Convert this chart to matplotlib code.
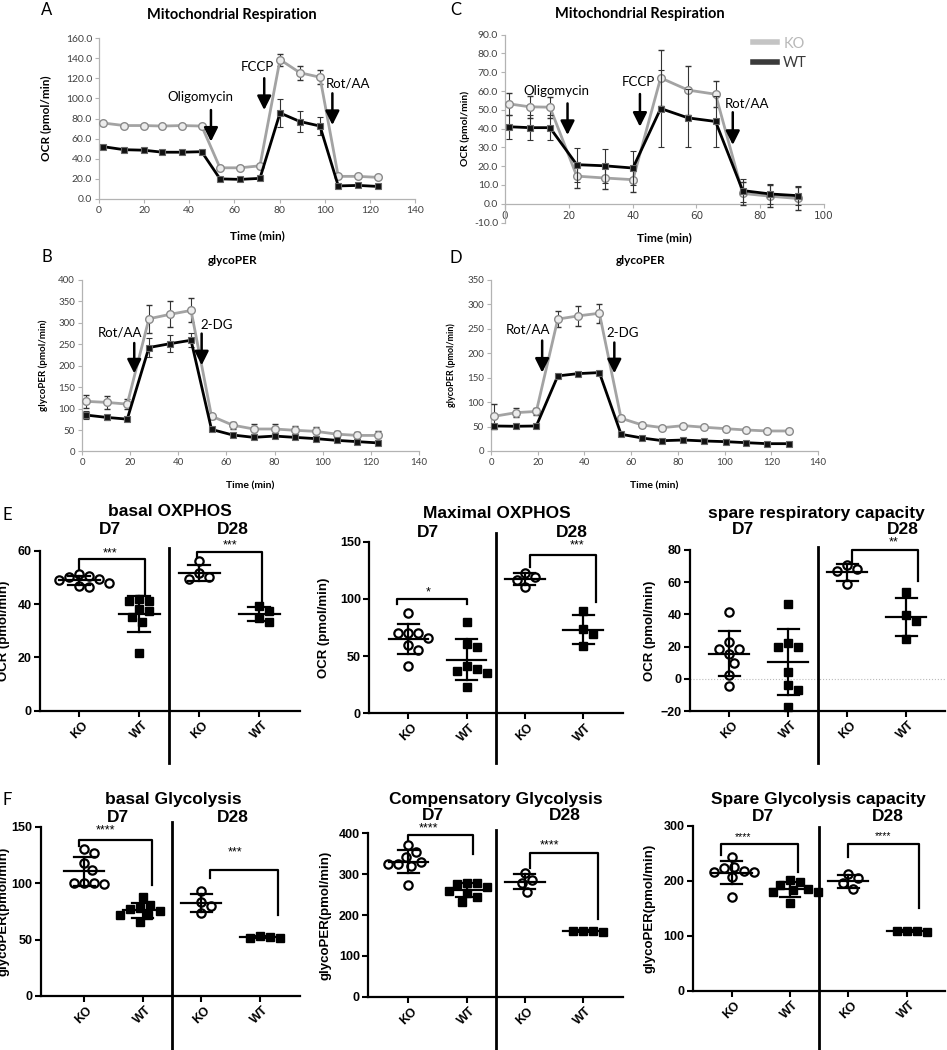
import numpy as np
import matplotlib
matplotlib.use("Agg")
import matplotlib.pyplot as plt
from matplotlib.lines import Line2D
from matplotlib.transforms import blended_transform_factory

W, H = 947, 1050

# ---------------- Seahorse traces (A-D) ----------------
t_a = [1.9, 11.1, 19.9, 28.1, 36.8, 45.5, 53.6, 62.5, 71.3, 80.2, 89.0, 97.9, 106.0, 114.9, 123.5]
a_ko = [75.5, 73.0, 73.0, 72.5, 73.0, 72.5, 31.0, 31.0, 33.0, 138.5, 125.5, 121.0, 22.5, 22.5, 21.5]
a_ko_err = [2, 1.5, 1.5, 1.5, 1.5, 1.5, 1.5, 1.5, 1.5, 6, 7, 7, 1.5, 1.5, 1.5]
a_wt = [52.0, 49.0, 48.5, 46.5, 46.5, 47.0, 20.0, 19.5, 20.5, 85.5, 77.0, 72.5, 13.0, 13.5, 12.5]
a_wt_err = [1.5, 1, 1, 1, 1, 1, 1, 1, 1, 13.5, 10, 9, 1, 1, 1]

t_c = [1.2, 7.7, 14.1, 22.5, 31.2, 40.1, 48.8, 57.4, 66.0, 74.5, 83.1, 91.7]
c_ko = [53.2, 51.6, 51.4, 14.7, 13.7, 12.8, 67.0, 60.5, 58.3, 5.5, 4.0, 2.8]
c_ko_err = [6, 6, 5.5, 6.5, 6, 6.5, 15, 13, 7, 6, 6, 6]
c_wt = [41.0, 40.5, 40.5, 20.8, 20.2, 19.0, 50.7, 45.7, 43.8, 7.0, 5.2, 4.3]
c_wt_err = [6.3, 6.5, 6.5, 9, 9, 9, 20.5, 15.5, 13.5, 6, 5.5, 5]

t_b = [1.7, 10.3, 18.8, 27.8, 36.6, 45.3, 53.8, 62.6, 71.3, 80.0, 88.4, 97.1, 105.8, 114.4, 123.1]
b_ko = [117, 114.5, 110.5, 309.5, 320, 329, 82.5, 61.5, 52.5, 52.5, 49.5, 47, 40.5, 37.5, 37.5]
b_ko_err = [15, 15, 12, 32, 30, 28, 6, 8, 12, 12, 10, 10, 8, 8, 10]
b_wt = [85, 79.5, 75.5, 242.5, 251.5, 259.5, 51.5, 38.5, 33, 36, 33, 30, 26, 23, 20]
b_wt_err = [9, 5, 4, 22, 20, 16, 3, 3, 3, 3, 3, 3, 3, 3, 3]

t_d = [1.3, 10.7, 19.4, 28.6, 37.3, 46.4, 55.7, 64.7, 73.4, 82.4, 91.4, 100.4, 109.3, 118.3, 127.4]
d_ko = [71, 78.5, 81, 270, 276.5, 282, 67, 53.3, 47.8, 51.9, 48.6, 45.7, 43, 41, 41]
d_ko_err = [25, 9, 7, 17, 20, 19, 5, 4, 3, 3, 3, 3, 3, 3, 3]
d_wt = [51.2, 50.6, 51.2, 153.7, 158.4, 160.5, 34.2, 26.6, 21.1, 22.5, 20.5, 19.1, 17, 15, 15]
d_wt_err = [3, 3, 3, 3, 3, 3, 3, 3, 3, 3, 3, 3, 3, 3, 3]

# ---------------- Prism scatter panels (E, F) ----------------
groups = ["KO", "WT", "KO", "WT"]

e1_d7_ko = [51.2, 49.4, 50.2, 50.5, 49.0, 47.8, 46.3, 46.8]
e1_d7_wt = [41.2, 41.8, 41.3, 33.4, 35.0, 21.5, 38.0, 37.5]
e1_d28_ko = [49.3, 51.5, 56.0, 50.3]
e1_d28_wt = [33.4, 37.4, 39.3, 34.9]

e2_d7_ko = [87.4, 65.6, 69.9, 69.9, 69.9, 59.7, 55.3, 41.3]
e2_d7_wt = [79.5, 58.2, 60.6, 41.3, 38.5, 37.2, 23.3, 35.0]
e2_d28_ko = [122.4, 116.5, 119.4, 110.7]
e2_d28_wt = [89.7, 73.7, 69.3, 59.1]

e3_d7_ko = [41.3, 22.7, 18.6, 18.6, 15.5, 9.7, 2.5, -4.7]
e3_d7_wt = [46.4, 19.6, 22.1, 19.8, 4.5, -4.1, -7.2, -17.5]
e3_d28_ko = [67.1, 70.6, 67.9, 58.6]
e3_d28_wt = [53.7, 35.9, 39.6, 24.8]

f1_d7_ko = [126.3, 130.1, 118.0, 111.5, 98.8, 99.7, 100.3, 100.3]
f1_d7_wt = [87.3, 76.7, 77.6, 80.5, 75.5, 71.7, 65.8, 71.7]
f1_d28_ko = [93.2, 79.6, 83.5, 73.2]
f1_d28_wt = [51.1, 53.1, 51.5, 52.0]

f2_d7_ko = [371.8, 343.1, 353.0, 321.1, 329.4, 325.2, 325.2, 273.8]
f2_d7_wt = [279.4, 276.2, 279.4, 268.1, 259.8, 254.9, 245.1, 232.8]
f2_d28_ko = [304.0, 286.0, 279.4, 257.4]
f2_d28_wt = [157.8, 161.0, 161.8, 161.5]

f3_d7_ko = [244.1, 218.6, 222.9, 216.8, 225.9, 215.7, 207.7, 170.1]
f3_d7_wt = [192.5, 198.5, 201.6, 179.2, 183.4, 184.7, 179.2, 159.2]
f3_d28_ko = [212.6, 204.7, 196.7, 184.7]
f3_d28_wt = [106.4, 109.3, 109.0, 109.0]

EXCEL = "Lato"
PRISM = "Liberation Sans"

fig = plt.figure(figsize=(W / 100, H / 100), dpi=100)


def add_ax(x0, y0, x1, y1):
    return fig.add_axes([x0 / W, 1 - y1 / H, (x1 - x0) / W, (y1 - y0) / H])


def ftext(x, y, s, **kw):
    fig.text(x / W, 1 - y / H, s, ha="center", va="center", **kw)


def label_x(ax, xpx):
    # axes fraction for a pixel x position
    bb = ax.get_position()
    return (xpx / W - bb.x0) / bb.width


def label_y(ax, ypx):
    bb = ax.get_position()
    return ((1 - ypx / H) - bb.y0) / bb.height


# ---------- excel-like line charts ----------
def excel_axes(ax, xlim, ylim, xticks, yticks, yfmt, lsize=7.5):
    ax.set_xlim(xlim)
    ax.set_ylim(ylim)
    ax.set_xticks(xticks)
    ax.set_yticks(yticks)
    ax.set_yticklabels([yfmt % v for v in yticks])
    for s in ["top", "right"]:
        ax.spines[s].set_visible(False)
    for s in ["left", "bottom"]:
        ax.spines[s].set_color("#b3b3b3")
        ax.spines[s].set_linewidth(0.9)
    ax.tick_params(direction="out", length=3, width=0.8, color="#b3b3b3",
                   labelsize=lsize, labelcolor="#404040", pad=2)
    for lab in ax.get_xticklabels() + ax.get_yticklabels():
        lab.set_family(EXCEL)


def traces(ax, t, ko, ko_err, wt, wt_err):
    ax.errorbar(t, ko, yerr=ko_err, color="#a3a3a3", lw=2, marker="o", ms=5.5,
                mfc="#ececec", mec="#8a8a8a", mew=1, ecolor="#333333",
                elinewidth=0.8, capsize=2, capthick=0.8, zorder=3, clip_on=False)
    ax.errorbar(t, wt, yerr=wt_err, color="k", lw=2, marker="s", ms=5,
                mfc="#111111", mec="#666666", mew=0.8, ecolor="#333333",
                elinewidth=0.8, capsize=2, capthick=0.8, zorder=4, clip_on=False)


def arrow(ax, x, y0, y1, label, lx, ly, fs=9.5):
    ax.annotate("", xy=(x, y1), xytext=(x, y0),
                arrowprops=dict(arrowstyle="-|>,head_length=0.6,head_width=0.3",
                                color="k", lw=1.8, mutation_scale=14,
                                shrinkA=0, shrinkB=0), zorder=6)
    ax.text(lx, ly, label, ha="center", va="center", fontsize=fs, family=EXCEL)


# Panel A
axA = add_ax(99, 38, 415, 199)
excel_axes(axA, (0, 140), (0, 160), range(0, 141, 20), np.arange(0, 161, 20), "%.1f")
traces(axA, t_a, a_ko, a_ko_err, a_wt, a_wt_err)
arrow(axA, 49.6, 88.4, 57, "Oligomycin", 44.7, 101)
arrow(axA, 73.2, 120, 88.4, "FCCP", 70.1, 131.5)
arrow(axA, 103.4, 105, 73.5, "Rot/AA", 110.5, 114.3)
axA.set_xlabel("Time (min)", fontsize=8.5, fontweight="bold", family=EXCEL)
axA.set_ylabel("OCR (pmol/min)", fontsize=8.5, fontweight="bold", family=EXCEL)
axA.yaxis.set_label_coords(label_x(axA, 52), 0.5)
axA.xaxis.set_label_coords(0.5, label_y(axA, 230))
ftext(232, 15, "Mitochondrial Respiration", fontsize=10.5, fontweight="bold", family=EXCEL)
ftext(47, 10, "A", fontsize=12, family=EXCEL)

# Panel C
axC = add_ax(505, 34.7, 824, 222.5)
excel_axes(axC, (0, 100), (-10, 90), range(0, 101, 20), np.arange(-10, 91, 10), "%.1f")
axC.spines["bottom"].set_position(("data", 0))
traces(axC, t_c, c_ko, c_ko_err, c_wt, c_wt_err)
arrow(axC, 19.6, 53.4, 36.6, "Oligomycin", 16.2, 60.2)
arrow(axC, 42.3, 58.4, 41.0, "FCCP", 41.8, 65)
arrow(axC, 71.4, 48.7, 31.3, "Rot/AA", 76.0, 53.5)
axC.set_xlabel("Time (min)", fontsize=8.5, fontweight="bold", family=EXCEL)
axC.set_ylabel("OCR (pmol/min)", fontsize=7.5, fontweight="bold", family=EXCEL)
axC.yaxis.set_label_coords(label_x(axC, 470), 0.5)
axC.xaxis.set_label_coords(0.5, label_y(axC, 232))
handles = [Line2D([], [], color="#c4c4c4", lw=4), Line2D([], [], color="#3a3a3a", lw=4)]
axC.legend(handles, ["KO", "WT"], loc="upper left", bbox_to_anchor=(0.735, 1.06),
           frameon=False, handlelength=1.7, handletextpad=0.4,
           labelspacing=0.35, labelcolor=["#b8b8b8", "#3a3a3a"],
           prop={"family": EXCEL, "size": 10.5})
ftext(640, 14, "Mitochondrial Respiration", fontsize=10.5, fontweight="bold", family=EXCEL)
ftext(456, 10, "C", fontsize=12, family=EXCEL)

# Panel B
axB = add_ax(82, 280, 419, 451.5)
excel_axes(axB, (0, 140), (0, 400), range(0, 141, 20), np.arange(0, 401, 50), "%d", lsize=7)
traces(axB, t_b, b_ko, b_ko_err, b_wt, b_wt_err)
arrow(axB, 21.7, 253, 182, "Rot/AA", 15.8, 278.6)
arrow(axB, 49.7, 275, 201, "2-DG", 56.0, 296)
axB.set_xlabel("Time (min)", fontsize=7.5, fontweight="bold", family=EXCEL)
axB.set_ylabel("glycoPER (pmol/min)", fontsize=7, fontweight="bold", family=EXCEL)
axB.yaxis.set_label_coords(label_x(axB, 48), 0.5)
axB.xaxis.set_label_coords(0.5, label_y(axB, 481))
ftext(233, 260, "glycoPER", fontsize=8.5, fontweight="bold", family=EXCEL)
ftext(47, 257, "B", fontsize=12, family=EXCEL)

# Panel D
axD = add_ax(491, 280, 818, 451)
excel_axes(axD, (0, 140), (0, 350), range(0, 141, 20), np.arange(0, 351, 50), "%d", lsize=7)
traces(axD, t_d, d_ko, d_ko_err, d_wt, d_wt_err)
arrow(axD, 21.9, 226, 160.4, "Rot/AA", 15.7, 248)
arrow(axD, 52.8, 222, 159, "2-DG", 56.5, 241)
axD.set_xlabel("Time (min)", fontsize=7.5, fontweight="bold", family=EXCEL)
axD.set_ylabel("glycoPER (pmol/min)", fontsize=6.5, fontweight="bold", family=EXCEL)
axD.yaxis.set_label_coords(label_x(axD, 456), 0.5)
axD.xaxis.set_label_coords(0.5, label_y(axD, 481))
ftext(641, 260, "glycoPER", fontsize=8.5, fontweight="bold", family=EXCEL)
ftext(456, 258, "D", fontsize=12, family=EXCEL)


# ---------- prism-like scatter panels ----------
def swarm(ax, xc, vals, dist_px=10.0):
    vals = np.asarray(vals, float)
    ypx = ax.transData.transform(np.column_stack([np.full(len(vals), xc), vals]))[:, 1]
    unit = ax.transData.transform([[xc + 1, 0]])[0, 0] - ax.transData.transform([[xc, 0]])[0, 0]
    steps = [0.0]
    for k in range(1, 60):
        steps += [k * dist_px / 4, -k * dist_px / 4]
    placed = []
    offs = np.zeros(len(vals))
    for i in np.argsort(-vals, kind="stable"):
        for s in steps:
            if all((s - px) ** 2 + (ypx[i] - py) ** 2 >= dist_px ** 2 for px, py in placed):
                break
        placed.append((s, ypx[i]))
        offs[i] = s / unit
    return xc + offs


def prism(box, data, ylim, yticks, xlim, title, ylabel, ylab_px, texts,
          div_px, brackets, zero_line=False):
    ax = add_ax(*box)
    ax.set_xlim(xlim)
    ax.set_ylim(ylim)
    ax.set_yticks(yticks)
    ax.set_xticks(range(4))
    ax.set_xticklabels(groups, rotation=45, ha="center")
    for s in ["top", "right"]:
        ax.spines[s].set_visible(False)
    for s in ["left", "bottom"]:
        ax.spines[s].set_linewidth(1.6)
    ax.tick_params(direction="out", length=4, width=1.5, labelsize=9, pad=2)
    for lab in ax.get_xticklabels() + ax.get_yticklabels():
        lab.set_family(PRISM)
        lab.set_fontweight("bold")
    ax.set_ylabel(ylabel, fontsize=9.5, fontweight="bold", family=PRISM)
    ax.yaxis.set_label_coords(label_x(ax, ylab_px), 0.5)
    if zero_line:
        ax.axhline(0, color="#bbbbbb", lw=0.8, ls=":", zorder=0)
    for i, vals in enumerate(data):
        xs = swarm(ax, i, vals)
        if groups[i] == "KO":
            ax.plot(xs, vals, "o", ms=6, mfc="white", mec="k", mew=1.6, zorder=3, clip_on=False)
        else:
            ax.plot(xs, vals, "s", ms=5.5, mfc="k", mec="k", zorder=3, clip_on=False)
        m, sd = np.mean(vals), np.std(vals, ddof=1)
        ax.plot([i - 0.34, i + 0.34], [m, m], "k-", lw=1.6, zorder=4)
        ax.plot([i, i], [m - sd, m + sd], "k-", lw=1.6, zorder=4)
        ax.plot([i - 0.18, i + 0.18], [m - sd, m - sd], "k-", lw=1.6, zorder=4)
        ax.plot([i - 0.18, i + 0.18], [m + sd, m + sd], "k-", lw=1.6, zorder=4)
    tr = blended_transform_factory(ax.transData, fig.transFigure)
    ax.plot([1.5, 1.5], [1 - div_px[0] / H, 1 - div_px[1] / H], "k-", lw=2,
            transform=tr, clip_on=False)
    for x1, x2, top, lb, rb, star, tx, ty, fs in brackets:
        ax.plot([x1, x1, x2, x2], [lb, top, top, rb], "k-", lw=1.6, clip_on=False)
        ax.text(tx, ty, star, ha="center", va="center", fontsize=fs, family=PRISM,
                clip_on=False)
    (tt, d7, d28) = texts
    ftext(tt[0], tt[1], title, fontsize=12.5, fontweight="bold", family=PRISM)
    ftext(d7[0], d7[1], "D7", fontsize=12.5, fontweight="bold", family=PRISM)
    ftext(d28[0], d28[1], "D28", fontsize=12.5, fontweight="bold", family=PRISM)
    return ax


prism((40, 550.7, 300, 710.7), [e1_d7_ko, e1_d7_wt, e1_d28_ko, e1_d28_wt],
      (0, 60), [0, 20, 40, 60], (-0.655, 3.68), "basal OXPHOS", "OCR (pmol/min)", 10,
      ((170, 511.7), (110, 529), (233, 529)), (548, 763),
      [(0, 1.1, 56.8, 52.1, 43.4, "***", 0.51, 58.8, 9),
       (1.97, 3.05, 59.7, 55.9, 40.3, "***", 2.52, 62.0, 9)])

prism((369.3, 541.7, 623.3, 713.3), [e2_d7_ko, e2_d7_wt, e2_d28_ko, e2_d28_wt],
      (0, 150), [0, 50, 100, 150], (-0.67, 3.69), "Maximal OXPHOS", "OCR (pmol/min)", 330,
      ((496.7, 514), (428.3, 532.7), (571.7, 532.7)), (533, 763),
      [(-0.2, 1.0, 100, 95.5, 95.5, "*", 0.34, 105.5, 9),
       (2.09, 3.22, 138.4, 128.1, 97.6, "***", 2.89, 146.5, 9)])

prism((690, 550, 945, 711), [e3_d7_ko, e3_d7_wt, e3_d28_ko, e3_d28_wt],
      (-20, 80), [-20, 0, 20, 40, 60, 80], (-0.67, 3.66), "spare respiratory capacity",
      "OCR (pmol/min)", 656,
      ((816.7, 513.3), (743.3, 529.3), (903.3, 529.3)), (547, 763),
      [(2.08, 3.2, 80.3, 72.6, 60.7, "**", 2.78, 84.5, 9)], zero_line=True)

prism((40.7, 826.7, 300, 996), [f1_d7_ko, f1_d7_wt, f1_d28_ko, f1_d28_wt],
      (0, 150), [0, 50, 100, 150], (-0.74, 3.68), "basal Glycolysis", "glycoPER(pmol/min)", 10,
      ((173.3, 799.3), (118.3, 817.3), (233.3, 817.3)), (822, 1050),
      [(-0.08, 1.15, 138, 132.7, 98.2, "****", 0.37, 146.5, 9),
       (2.14, 3.31, 111.5, 104.2, 71.7, "***", 2.57, 127, 9)])

prism((368.3, 833.3, 623.3, 996.7), [f2_d7_ko, f2_d7_wt, f2_d28_ko, f2_d28_wt],
      (0, 400), [0, 100, 200, 300, 400], (-0.69, 3.69), "Compensatory Glycolysis",
      "glycoPER(pmol/min)", 331,
      ((496, 799.3), (433.3, 815), (565, 815)), (830, 1050),
      [(0, 1.1, 396, 380, 350, "****", 0.34, 413, 9),
       (2.09, 3.25, 351.4, 314.7, 189.7, "****", 2.42, 370, 9)])

prism((692.7, 826, 945, 990.7), [f3_d7_ko, f3_d7_wt, f3_d28_ko, f3_d28_wt],
      (0, 300), [0, 100, 200, 300], (-0.67, 3.66), "Spare Glycolysis capacity",
      "glycoPER(pmol/min)", 656,
      ((818.3, 799.3), (763.3, 816.7), (888.3, 816.7)), (827, 1050),
      [(-0.19, 1.14, 266.7, 247.2, 216.8, "****", 0.2, 279, 7.5),
       (2.0, 3.22, 266.7, 244, 150, "****", 2.6, 281, 7.5)])

ftext(7, 515, "E", fontsize=12, family=EXCEL)
ftext(7, 800, "F", fontsize=12, family=EXCEL)

fig.savefig("out.png", dpi=100)
